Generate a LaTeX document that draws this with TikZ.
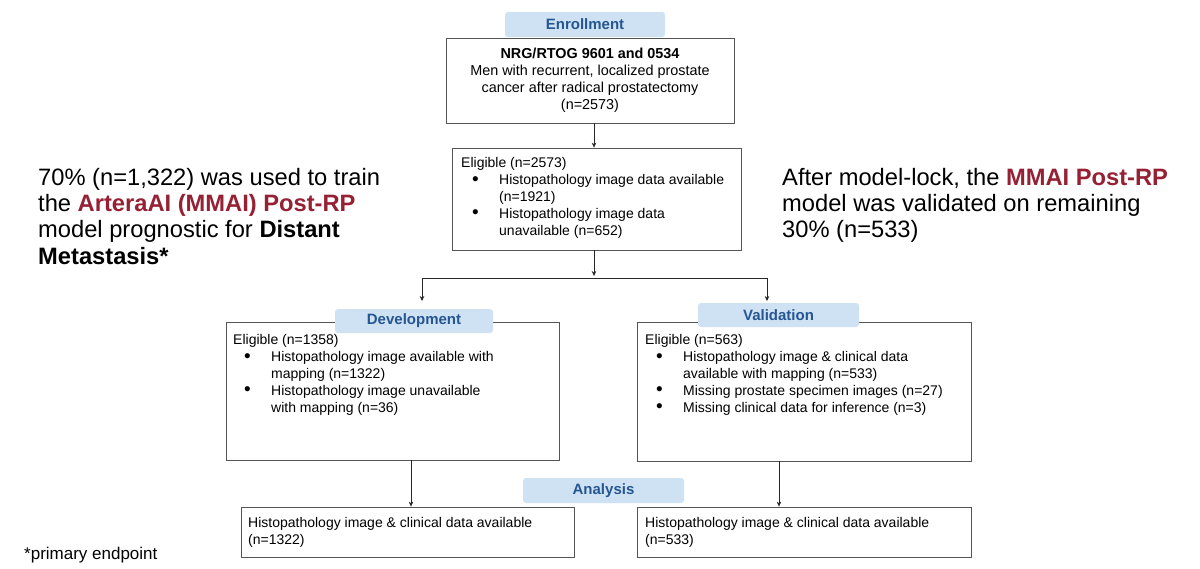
\documentclass[tikz,border=0pt]{standalone}
\usepackage{fontspec}
\setmainfont{Liberation Sans}
\usetikzlibrary{arrows.meta}
\definecolor{lblue}{RGB}{207,226,243}
\definecolor{dblue}{RGB}{38,86,146}
\definecolor{dred}{RGB}{150,32,52}
\definecolor{boxgray}{RGB}{85,85,85}
\newcommand{\bitem}[1]{\hspace*{11pt}\makebox[27pt][l]{\raisebox{-0.6pt}{\fontsize{19}{16.8}\selectfont\textbullet}}#1}
\newcommand{\bcont}[1]{\hspace*{38pt}#1}
\begin{document}
\begin{tikzpicture}[x=1pt,y=-1pt,
  box/.style={draw=boxgray, line width=0.8pt, inner sep=0pt},
  lbl/.style={fill=lblue, rounded corners=3pt, text=dblue, inner sep=0pt,
    font=\bfseries\fontsize{15}{18}\selectfont},
  bt/.style={font=\fontsize{14}{16.8}\selectfont, align=left, inner sep=0pt, anchor=north west},
  big/.style={font=\fontsize{23.7}{26.3}\selectfont, align=left, inner sep=0pt, anchor=north west},
  arr/.style={-{Stealth[length=5pt,width=4.5pt]}, line width=0.6pt, draw=black!85}]
\fill[white] (0,0) rectangle (1200,568);
\useasboundingbox (0,0) rectangle (1200,568);

% boxes
\node[box, minimum width=288pt, minimum height=85pt, align=center,
  font=\fontsize{14.4}{17}\selectfont] (top) at (590,80.5)
  {\textbf{NRG/RTOG 9601 and 0534}\\Men with recurrent, localized prostate\\cancer after radical prostatectomy\\(n=2573)};
\node[box, minimum width=289pt, minimum height=102pt] (elig) at (596.5,199) {};
\node[box, minimum width=333pt, minimum height=138pt] (dev) at (392.5,391) {};
\node[box, minimum width=334pt, minimum height=139pt] (val) at (804,391.5) {};
\node[box, minimum width=333pt, minimum height=50pt] (adev) at (407.5,532) {};
\node[box, minimum width=334pt, minimum height=50pt] (aval) at (804,532) {};

% labels
\node[lbl, minimum width=160pt, minimum height=25pt] (lenr) at (585,24.5) {Enrollment};
\node[lbl, minimum width=158pt, minimum height=24pt] (ldev) at (414,321) {Development};
\node[lbl, minimum width=161pt, minimum height=24pt] (lval) at (778.5,315) {Validation};
\node[lbl, minimum width=161pt, minimum height=25pt] (lana) at (603.5,490.5) {Analysis};

% box texts
\node[bt] (teli) at (461,157.5) {Eligible (n=2573)\\
  \bitem{Histopathology image data available}\\
  \bcont{(n=1921)}\\
  \bitem{Histopathology image data}\\
  \bcont{unavailable (n=652)}};
\node[bt] (tdev) at (233,334.5) {Eligible (n=1358)\\
  \bitem{Histopathology image available with}\\
  \bcont{mapping (n=1322)}\\
  \bitem{Histopathology image unavailable}\\
  \bcont{with mapping (n=36)}};
\node[bt] (tval) at (645,334.5) {Eligible (n=563)\\
  \bitem{Histopathology image \& clinical data}\\
  \bcont{available with mapping (n=533)}\\
  \bitem{Missing prostate specimen images (n=27)}\\
  \bitem{Missing clinical data for inference (n=3)}};
\node[bt] (tadev) at (248,517.5) {Histopathology image \& clinical data available\\(n=1322)};
\node[bt] (taval) at (645,517.5) {Histopathology image \& clinical data available\\(n=533)};

% side texts
\node[big] (left) at (38,167.8) {70\% (n=1,322) was used to train\\
  the \textcolor{dred}{\textbf{ArteraAI (MMAI) Post-RP}}\\
  model prognostic for \textbf{Distant}\\
  \textbf{Metastasis*}};
\node[big] (right) at (782,167.8) {After model-lock, the \textcolor{dred}{\textbf{MMAI Post-RP}}\\
  model was validated on remaining\\
  30\% (n=533)};
\node[inner sep=0pt, anchor=north west, font=\fontsize{17}{20}\selectfont] (foot) at (24,546.6) {*primary endpoint};

% connectors
\coordinate (j) at (594,278);
\coordinate (jl) at (422,278);
\coordinate (jr) at (767,278);
\coordinate (dl) at (422,301);
\coordinate (dr) at (767,301);
\coordinate (xd) at (411,0);
\coordinate (xv) at (779,0);
\draw[arr] (top.south -| j) -- (elig.north -| j);
\draw[arr] (elig.south -| j) -- ([yshift=2pt]j);
\draw[line width=0.6pt, draw=black!85] (jl) -- (jr);
\draw[arr] (jl) -- (dl);
\draw[arr] (jr) -- (dr);
\draw[arr] (dev.south -| xd) -- (adev.north -| xd);
\draw[arr] (val.south -| xv) -- (aval.north -| xv);
\end{tikzpicture}
\end{document}
